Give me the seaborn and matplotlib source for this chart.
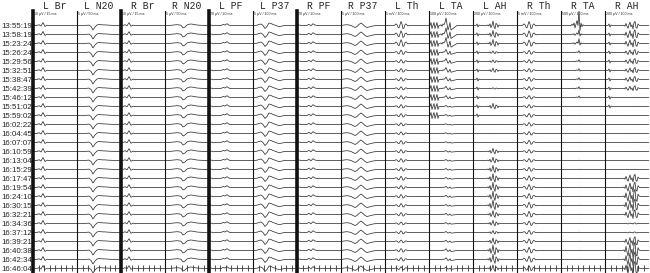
import numpy as np
import pandas as pd
import seaborn as sns
import matplotlib.pyplot as plt

# recording times (one trace per row)
times = ["13:55:19", "13:58:19", "15:23:24", "15:26:24", "15:29:56", "15:32:51",
         "15:38:47", "15:42:39", "15:46:12", "15:51:02", "15:59:02", "16:02:22",
         "16:04:45", "16:07:07", "16:10:59", "16:13:04", "16:15:29", "16:17:47",
         "16:19:54", "16:24:10", "16:30:15", "16:32:21", "16:34:36", "16:37:12",
         "16:39:21", "16:40:38", "16:42:34", "16:46:04"]

panels = ["L Br", "L N20", "R Br", "R N20", "L PF", "L P37", "R PF", "R P37",
          "L Th", "L TA", "L AH", "R Th", "R TA", "R AH"]
scales = ["50 µV / 15 ms", "5 µV / 50 ms", "50 µV / 15 ms", "5 µV / 50 ms",
          "20 µV / 20 ms", "5 µV / 100 ms", "20 µV / 20 ms", "5 µV / 100 ms",
          "5 mV / 100 ms", "100 µV / 100 ms", "200 µV / 100 ms", "5 mV / 100 ms",
          "500 µV / 100 ms", "200 µV / 100 ms"]
thick_panels = ["L Br", "R Br", "L PF", "R PF"]

# evoked potential shapes (pixels, 23 samples across the sweep)
l_br = [0, 0, 0, 0.8, -0.5, 3, -1, 0.3, 0, 0, 0.1, 0.1, 0, 0, 0, 0, 0, 0, 0, 0, 0, 0, 0]
l_n20 = [0, 0, 0, 0, 0, 0.2, 0.4, -1, -4.5, -1.5, 0.5, 1, 0.8, 0.6, 0.6, 0.4, 0.3, 0.2, 0.1, 0, 0, 0, 0]
r_br = [0, 0, 0.8, -0.3, 2.8, -0.8, 0.3, 0, 0, 0, 0.1, 0.1, 0, 0, 0, 0, 0, 0, 0, 0, 0, 0, 0]
r_n20 = [0, 0, 0, 0.2, 0.4, 0.6, 0.8, 0.6, 0.2, -2.5, -1.5, 0.5, 1.2, 1.5, 1.2, 0.8, 0.5, 0.3, 0.2, 0.1, 0, 0, 0]
l_pf = [0, 0.5, -0.3, 0, 0, 0, 0, 1.0, 0.5, 1.8, 0.3, 0, 0, 0, 0, 0, 0, 0, 0, 0, 0, 0, 0]
l_p37 = [0, 0, 0.3, 1, 1.5, 0, -3, -1, 2.5, 2, 1, 0.3, -0.5, -1, -0.8, -0.3, 0, 0, 0, 0, 0, 0, 0]
r_pf = [0, 0.5, 0, 0, 0, 0, 1.2, -0.3, 1.8, 0.5, 0, 0, 0, 0, 0, 0, 0, 0, 0, 0, 0, 0, 0]
r_p37 = [0, 0.3, 0.6, 0.8, 0.5, 0, -1, -2, -1, 1, 2.5, 1, -1, -2, -1.5, -1, -0.5, -0.2, 0, 0, 0, 0, 0]

# muscle / thenar responses (pixels, 45 samples across the sweep)
l_th = [0, 0, 0, 0, 0, 0, 0, 0, 0, 0, 0.3, 1, 0.5, -1, -1.5, 0.5, 2.5, 1, -2, -1.5, 0.5, 1,
        0.3, -0.3, 0, 0, 0, 0, 0, 0, 0, 0, 0, 0, 0, 0, 0, 0, 0, 0, 0, 0, 0, 0, 0]
l_ta = [0, 0, 0, 0, 0, 0, 0, 0, 0, 0, 0, 0, 0.5, -0.5, 1, 0.5, 2, 5, 1, -3, -1, 2, -3,
        -2.5, -2, -1.5, -1, -0.5, 0, 0, 0, 0, 0, 0, 0, 0, 0, 0, 0, 0, 0, 0, 0, 0, 0]
l_ah = [0, 0, 0, 0, 0, 0, 0, 0, 0, 0, 0, 0, 0, 0, 0, 0.5, -0.5, 1.5, -2, 0, 4, -1, -3,
        2, 1, -1.5, 0.5, 0, 0, 0, 0, 0, 0, 0, 0, 0, 0, 0, 0, 0, 0, 0, 0, 0, 0]
r_th = [0, 0, 0, 0, 0, 0, 0.3, 1, 0.5, -1, -1.5, 0.5, 2.5, 1, -2, -1.5, 0.5, 1, 0.3, -0.3, 0, 0, 0,
        0, 0, 0, 0, 0, 0, 0, 0, 0, 0, 0, 0, 0, 0, 0, 0, 0, 0, 0, 0, 0, 0]
r_ta = [0, 0, 0, 0, 0, 0, 0, 0, 0, 0, 0, 0.5, 0, 1, -1, 0.5, 2, 0, 6, -2, 1, -0.5, 0.3,
        0, 0, 0, 0, 0, 0, 0, 0, 0, 0, 0, 0, 0, 0, 0, 0, 0, 0, 0, 0, 0, 0]
r_ah = [0, 0, 0, 0, 0, 0, 0, 0, 0, 0, 0, 0, 0, 0, 0, 0, 0, 0, 0, 0.5, -1, 3, -1, -4,
        1, 5, -2, 1, -5, 4, 6, -3, -4, 2, 0.5, 0, 0, 0, 0, 0, 0, 0, 0, 0, 0]

# stimulus artifacts
ta_art = [0, 0, 3, -3, 0, 3, -3, 0, 3, -3, 0, 0, 0, 0, 0, 0, 0, 0, 0, 0, 0, 0, 0,
          0, 0, 0, 0, 0, 0, 0, 0, 0, 0, 0, 0, 0, 0, 0, 0, 0, 0, 0, 0, 0, 0]
ah_art = [0, 0, 0, 0, 1.5, -1.5, 0.5, 0, 0, 0, 0, 0, 0, 0, 0, 0, 0, 0, 0, 0, 0, 0, 0,
          0, 0, 0, 0, 0, 0, 0, 0, 0, 0, 0, 0, 0, 0, 0, 0, 0, 0, 0, 0, 0, 0]

# per-row amplitude of each muscle response
l_th_gain = [1.6, 1.5, 1.5, 1.0, 0.8, 0.8, 0.8, 0.7, 0.8, 0.8, 0.8, 0.7, 0.7, 0.8,
             0.8, 0.8, 0.8, 0.9, 0.8, 0.8, 0.8, 0.8, 0.6, 0.7, 0.6, 0.8, 0.8, 0.7]
l_ta_gain = [1.5, 1.3, 1.2, 0.6, 0.6, 0.6, 0.5, 0.45, 0.4, 0.2, 0.2, 0.15, 0.15, 0.15,
             0.2, 0.2, 0.2, 0.2, 0.25, 0.25, 0.2, 0.25, 0.2, 0.2, 0.25, 0.35, 0.35, 0.25]
l_ah_gain = [1.1, 1.0, 1.0, 0.4, 0.4, 0.6, 0.05, 0.2, 0.05, 0.8, 0.05, 0.05, 0.05, 0.05,
             0.8, 0.8, 1.0, 1.2, 1.3, 1.3, 1.4, 1.0, 0.8, 0.5, 0.9, 1.4, 1.3, 0.9]
r_th_gain = [1.6, 1.5, 1.4, 0.9, 0.8, 0.8, 0.9, 0.8, 0.8, 0.8, 0.9, 0.8, 0.8, 0.9,
             0.8, 0.8, 0.9, 1.1, 1.2, 1.2, 1.3, 1.3, 1.0, 0.9, 1.1, 1.3, 1.3, 1.1]
r_ta_gain = [2.5, 0.8, 0.8, 0.3, 0.3, 0.3, 0.3, 0.3, 0.25, 0.05, 0.05, 0.05, 0.05, 0.05,
             0.05, 0.05, 0.05, 0.05, 0.05, 0.05, 0.05, 0.05, 0.05, 0.05, 0.05, 0.05, 0.05, 0.05]
r_ah_gain = [0.7, 0.8, 0.7, 0.5, 0.5, 0.5, 0.5, 0.45, 0.03, 0.03, 0.03, 0.03, 0.03, 0.03,
             0.03, 0.03, 0.03, 0.7, 0.9, 1.2, 1.1, 0.8, 0.1, 0.1, 0.8, 1.4, 1.3, 1.2]
l_art_on = [1] * 11 + [0] * 17
r_art_on = [1] * 10 + [0] * 18

ones = [1.0] * len(times)
zeros = [0] * len(times)
traces = {
    "L Br": (l_br, ones, None, zeros), "L N20": (l_n20, ones, None, zeros),
    "R Br": (r_br, ones, None, zeros), "R N20": (r_n20, ones, None, zeros),
    "L PF": (l_pf, ones, None, zeros), "L P37": (l_p37, ones, None, zeros),
    "R PF": (r_pf, ones, None, zeros), "R P37": (r_p37, ones, None, zeros),
    "L Th": (l_th, l_th_gain, None, zeros), "L TA": (l_ta, l_ta_gain, ta_art, l_art_on),
    "L AH": (l_ah, l_ah_gain, ah_art, l_art_on), "R Th": (r_th, r_th_gain, None, zeros),
    "R TA": (r_ta, r_ta_gain, None, zeros), "R AH": (r_ah, r_ah_gain, ah_art, r_art_on),
}

sns.set_style("white")
plt.rcParams["font.family"] = ["Liberation Sans", "DejaVu Sans"]

row_px = 9.0  # pixel height of one row, used to turn pixel amplitudes into rows
n = len(times)
fig, axes = plt.subplots(1, len(panels), figsize=(6.5, 2.73), dpi=100, sharey=True)
fig.subplots_adjust(left=33 / 650, right=649 / 650, top=1 - 11 / 273, bottom=0, wspace=0)

for ax, name, scale in zip(axes, panels, scales):
    resp, gain, art, art_on = traces[name]
    resp = np.array(resp)
    x = np.linspace(0, 1, len(resp))
    frames = []
    for i in range(n):
        y = gain[i] * resp
        if art is not None:
            y = y + art_on[i] * np.array(art)
        frames.append(pd.DataFrame({"x": x, "y": -i + y / row_px, "row": i}))
    df = pd.concat(frames)
    sns.lineplot(data=df, x="x", y="y", units="row", estimator=None, sort=False,
                 color="#333333", linewidth=0.55, ax=ax, legend=False)
    # time scale ticks on the last trace
    tk = np.arange(1, 8) / 8
    ax.plot(tk, np.full(len(tk), -(n - 1)), ls="none", marker="|", ms=4, mew=0.6, color="#333333")

    ax.set_xlim(0, 1)
    ax.set_ylim(-(n - 1) - 0.5, 1.61)
    ax.set_xlabel("")
    ax.set_ylabel("")
    ax.set_xticks([])
    for s in ["top", "right", "bottom"]:
        ax.spines[s].set_visible(False)
    ax.spines["left"].set_color("#111111")
    ax.spines["left"].set_linewidth(2.6 if name in thick_panels else 0.8)
    ax.set_title(name, fontsize=7, family="Liberation Mono", pad=1.5)
    ax.text(0.03, 0.99, scale, fontsize=2.6, va="center", ha="left", transform=ax.transAxes)

axes[0].set_yticks(-np.arange(n))
axes[0].set_yticklabels(times, fontsize=5.7)
axes[0].tick_params(axis="y", length=0, pad=0.5)
for ax in axes[1:]:
    ax.tick_params(axis="y", length=0, labelleft=False)

fig.savefig("out.png", dpi=100)
